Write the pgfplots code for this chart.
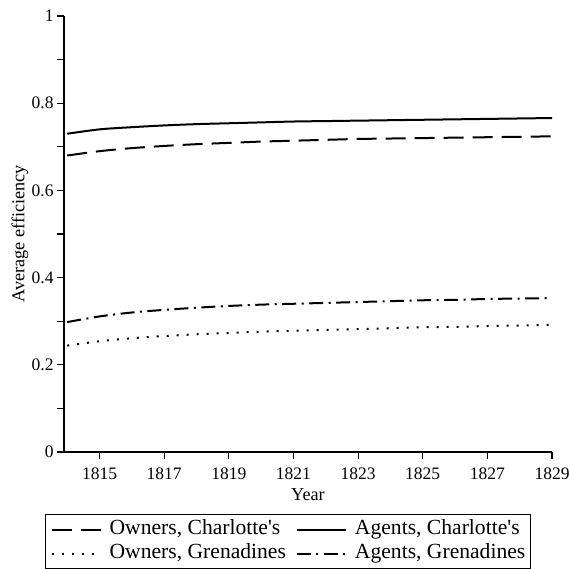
\documentclass[border=0pt]{standalone}
\usepackage{fontspec}
\setmainfont{Liberation Serif}
\usepackage{pgfplots}
\pgfplotsset{compat=1.18}

\pgfplotstableread{
year  ownC   agC    ownG   agG
1814  0.680  0.730  0.244  0.298
1815  0.690  0.740  0.254  0.311
1816  0.697  0.745  0.261  0.320
1817  0.702  0.749  0.266  0.326
1818  0.706  0.752  0.270  0.331
1819  0.709  0.754  0.273  0.335
1820  0.712  0.756  0.276  0.338
1821  0.714  0.758  0.278  0.340
1822  0.716  0.759  0.280  0.342
1823  0.718  0.760  0.282  0.344
1824  0.719  0.761  0.284  0.346
1825  0.720  0.762  0.286  0.348
1826  0.721  0.763  0.287  0.349
1827  0.722  0.764  0.289  0.351
1828  0.723  0.765  0.290  0.352
1829  0.724  0.766  0.292  0.353
}\efficiency

\newcommand{\tickfont}{\fontsize{8.75}{10}\selectfont}
\newcommand{\labfont}{\fontsize{9.1}{11}\selectfont}
\newcommand{\legfont}{\fontsize{10.8}{12}\selectfont}

\begin{document}
\begin{tikzpicture}
\begin{axis}[
  scale only axis,
  width=244pt, height=218pt,
  xmin=1813.9, xmax=1829,
  ymin=0, ymax=1,
  axis x line*=bottom, axis y line*=left,
  axis line style={line width=0.85pt},
  xtick={1815,1817,...,1829},
  ytick={0,0.2,0.4,0.6,0.8,1},
  yticklabels={0,0.2,0.4,0.6,0.8,1},
  minor ytick={0.1,0.3,0.5,0.7,0.9},
  tick align=outside,
  major tick length=3.5pt, minor tick length=3.5pt,
  tick style={line width=0.55pt, black},
  xticklabel style={/pgf/number format/1000 sep=, inner sep=0pt, anchor=north, yshift=-4pt},
  yticklabel style={inner sep=0pt, anchor=east, xshift=-1.5pt},
  /pgf/number format/assume math mode=true,
  ticklabel style={font=\tickfont},
  label style={font=\labfont, inner sep=0pt},
  xlabel={Year},
  ylabel={Average efficiency},
  xlabel style={at={(rel axis cs:0.5,0)}, anchor=base, yshift=-24pt},
  ylabel style={at={(rel axis cs:0,0.5)}, anchor=center, rotate=0, yshift=22pt},
  legend columns=2,
  legend style={at={(0.459,0)}, anchor=north, yshift=-31pt,
    draw=black, line width=0.6pt, font=\legfont,
    inner xsep=2.5pt, inner ysep=2pt, row sep=1pt,
    nodes={inner sep=0pt, text height=8pt, text depth=3pt},
    /tikz/every odd column/.style={column sep=4pt},
    /tikz/every even column/.style={column sep=5pt}},
  legend image code/.code={\draw[#1] (0pt,0pt) -- (24.5pt,0pt);},
  legend cell align=left,
  every axis plot/.append style={line width=1pt, black, smooth},
]
\addplot[dash pattern=on 10pt off 4.5pt] table[x=year,y=ownC] {\efficiency};
\addlegendentry{Owners, Charlotte\textquotesingle s}
\addplot[solid] table[x=year,y=agC] {\efficiency};
\addlegendentry{Agents, Charlotte\textquotesingle s}
\addplot[dash pattern=on 1pt off 4pt] table[x=year,y=ownG] {\efficiency};
\addlegendentry{Owners, Grenadines}
\addplot[dash pattern=on 7pt off 2.75pt on 1pt off 2.75pt] table[x=year,y=agG] {\efficiency};
\addlegendentry{Agents, Grenadines}
\coordinate (lowleft) at (rel axis cs:0,0);
\coordinate (upright) at (rel axis cs:1,1);
\end{axis}
% fixed frame around the axis so that labels and legend keep their margins
\pgfresetboundingbox
\path ([shift={(-32pt,-58pt)}]lowleft) rectangle ([shift={(9pt,8pt)}]upright);
\end{tikzpicture}
\end{document}
